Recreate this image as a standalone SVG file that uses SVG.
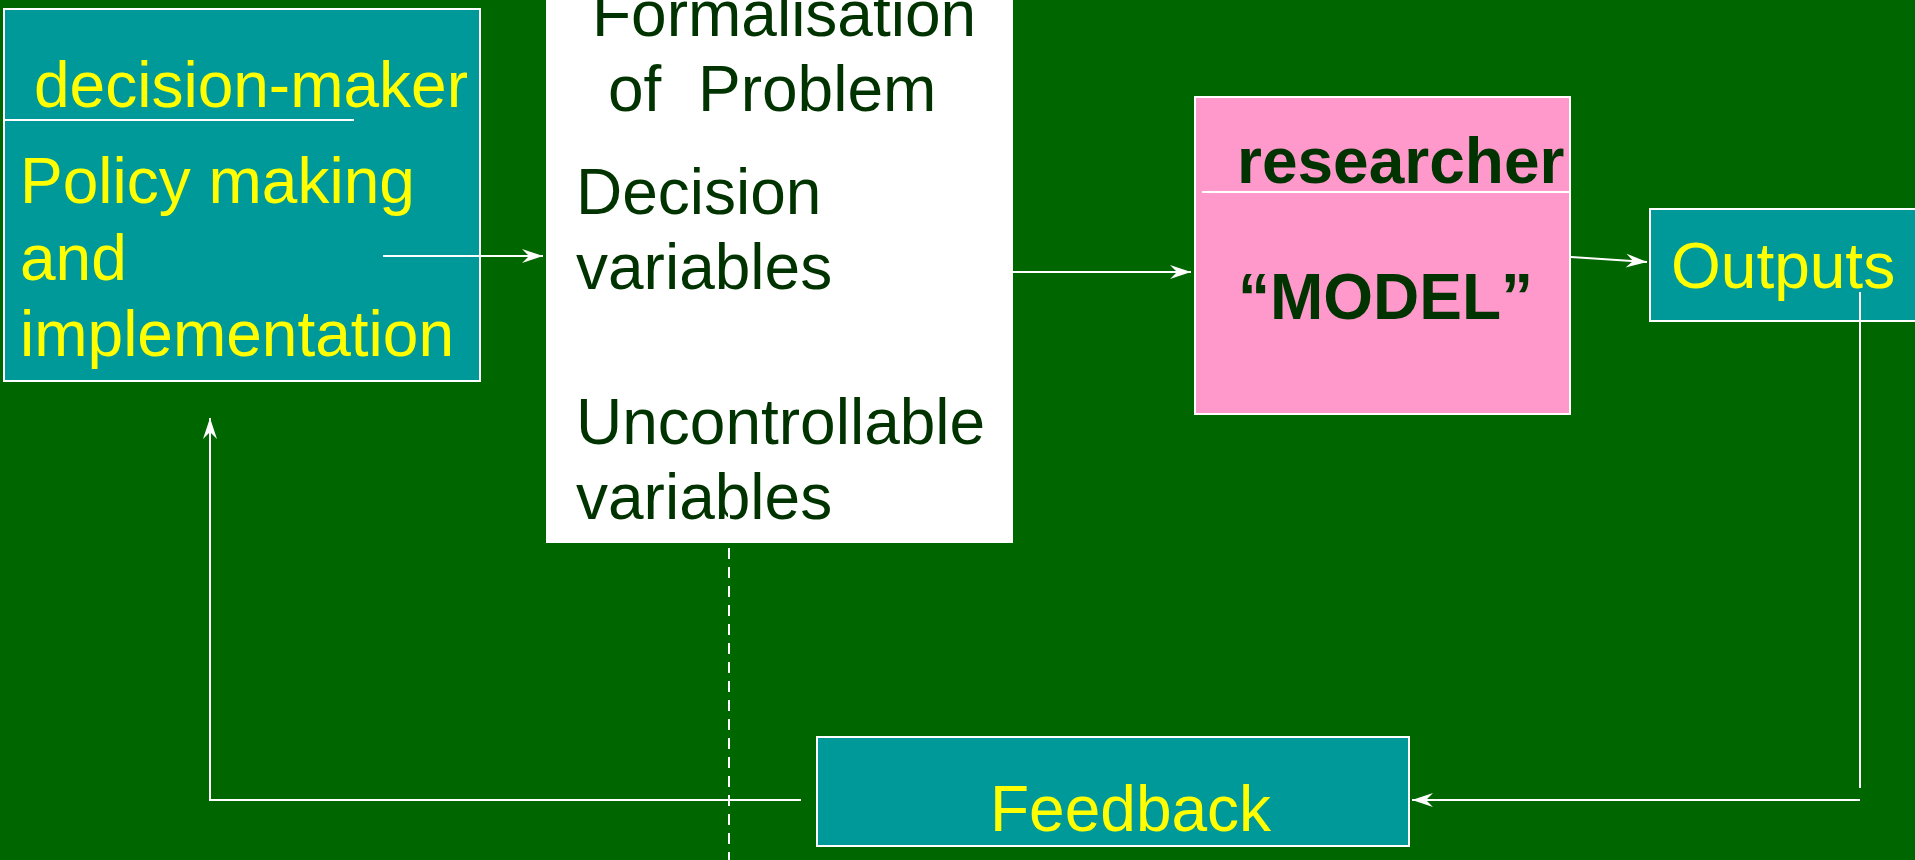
<svg xmlns="http://www.w3.org/2000/svg" width="1915" height="860" viewBox="0 0 1915 860">
  <defs>
    <marker id="arrow" markerUnits="userSpaceOnUse" markerWidth="24" markerHeight="18" viewBox="-22 -9 24 18" refX="0" refY="0" orient="auto">
      <path d="M0,0 L-21,-7 L-14,0 L-21,7 Z" fill="#ffffff"/>
    </marker>
    <style>
      .box { stroke: #ffffff; stroke-width: 2; }
      .teal { fill: #009999; }
      .pink { fill: #ff99cc; }
      .paper { fill: #ffffff; }
      .t { font-family: "Liberation Sans", Arial, sans-serif; font-size: 64px; }
      .yellow { fill: #ffff00; }
      .dark { fill: #003300; }
      .bold { font-weight: bold; }
      .rule { stroke: #ffffff; stroke-width: 2; fill: none; }
      .link { stroke: #ffffff; stroke-width: 2; fill: none; }
    </style>
  </defs>

  <rect width="1915" height="860" fill="#006600"/>

  <!-- decision-maker -->
  <g id="decision-maker">
    <rect class="box teal" x="4" y="9" width="476" height="372"/>
    <line class="rule" x1="4" y1="120" x2="354" y2="120"/>
    <text class="t yellow" x="34" y="107">decision-maker</text>
    <text class="t yellow" x="20" y="203">Policy making</text>
    <text class="t yellow" x="20" y="280">and</text>
    <text class="t yellow" x="20" y="356">implementation</text>
  </g>

  <!-- formalisation of the problem -->
  <g id="formalisation">
    <rect class="paper" x="546" y="-20" width="467" height="563"/>
    <text class="t dark" x="592" y="36">Formalisation</text>
    <text class="t dark" y="111"><tspan x="608">of</tspan><tspan x="698">Problem</tspan></text>
    <text class="t dark" x="576" y="214">Decision</text>
    <text class="t dark" x="576" y="289">variables</text>
    <text class="t dark" x="576" y="444">Uncontrollable</text>
    <text class="t dark" x="576" y="519">variables</text>
  </g>

  <!-- researcher / model -->
  <g id="model">
    <rect class="box pink" x="1195" y="97" width="375" height="317"/>
    <line class="rule" x1="1202" y1="192" x2="1570" y2="192"/>
    <text class="t dark bold" x="1237" y="183">researcher</text>
    <text class="t dark bold" x="1238" y="319">“MODEL”</text>
  </g>

  <!-- outputs -->
  <g id="outputs">
    <rect class="box teal" x="1650" y="209" width="275" height="112"/>
    <text class="t yellow" x="1671" y="288">Outputs</text>
  </g>

  <!-- feedback -->
  <g id="feedback">
    <rect class="box teal" x="817" y="737" width="592" height="109"/>
    <text class="t yellow" x="990" y="831">Feedback</text>
  </g>

  <!-- connectors -->
  <g id="connectors">
    <line class="link" x1="383" y1="256" x2="543" y2="256" marker-end="url(#arrow)"/>
    <line class="link" x1="1013" y1="272" x2="1191" y2="272" marker-end="url(#arrow)"/>
    <line class="link" x1="1571" y1="257" x2="1647" y2="262" marker-end="url(#arrow)"/>
    <line class="link" x1="1860" y1="292" x2="1860" y2="788"/>
    <line class="link" x1="1860" y1="800" x2="1412" y2="800" marker-end="url(#arrow)"/>
    <polyline class="link" points="801,800 210,800 210,418" marker-end="url(#arrow)"/>
    <line class="link" x1="729" y1="472" x2="729" y2="860" stroke-dasharray="11 8"/>
  </g>
</svg>
